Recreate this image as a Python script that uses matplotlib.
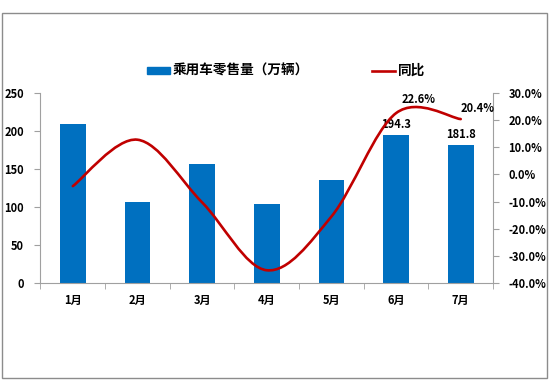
import matplotlib
matplotlib.use("Agg")
import matplotlib.pyplot as plt
from matplotlib.path import Path
from matplotlib.patches import PathPatch, Rectangle
from matplotlib.lines import Line2D
from matplotlib.ticker import FuncFormatter, MultipleLocator

plt.rcParams['font.family'] = ['Noto Sans CJK SC', 'DejaVu Sans']

# data
months = ['1月', '2月', '3月', '4月', '5月', '6月', '7月']
sales = [209.0, 107.0, 157.0, 104.0, 135.5, 194.3, 181.8]   # 万辆
yoy = [-4.3, 12.8, -10.3, -35.3, -15.5, 22.6, 20.4]          # %
sales_labels = {5: '194.3', 6: '181.8'}
yoy_labels = {5: '22.6%', 6: '20.4%'}

BLUE = '#0070C0'
RED = '#C00000'
GREY = '#A0A0A0'


def smooth_path(xs, ys):
    """Excel style smoothed line: cubic Bezier segments through every point."""
    n = len(xs)
    verts = [(xs[0], ys[0])]
    codes = [Path.MOVETO]
    for i in range(n - 1):
        p0 = max(i - 1, 0)
        p3 = min(i + 2, n - 1)
        c1 = (xs[i] + (xs[i + 1] - xs[p0]) / 6, ys[i] + (ys[i + 1] - ys[p0]) / 6)
        c2 = (xs[i + 1] - (xs[p3] - xs[i]) / 6, ys[i + 1] - (ys[p3] - ys[i]) / 6)
        verts += [c1, c2, (xs[i + 1], ys[i + 1])]
        codes += [Path.CURVE4] * 3
    return Path(verts, codes)


fig = plt.figure(figsize=(5.54, 3.86), dpi=100)
fig.patches.append(Rectangle((0.0045, 0.0207), 0.983, 0.9456, transform=fig.transFigure,
                             fill=False, edgecolor='#8C8C8C', linewidth=1.0))

ax = fig.add_axes([0.0731, 0.2668, 0.8169, 0.4922])
x = list(range(len(months)))
ax.bar(x, sales, width=0.4, color=BLUE, zorder=2)
ax.set_xlim(-0.5, len(months) - 0.5)
ax.set_ylim(0, 250)
ax.yaxis.set_major_locator(MultipleLocator(50))

ax.set_xticks(x)
ax.set_xticklabels(months)
ax.set_xticks([i - 0.5 for i in range(len(months) + 1)], minor=True)
ax.tick_params(axis='x', which='major', length=0, pad=8)
ax.tick_params(axis='x', which='minor', length=4, color=GREY)
ax.tick_params(axis='y', length=4, color=GREY, pad=8)
for lab in ax.get_xticklabels() + ax.get_yticklabels():
    lab.set_fontsize(8)
    lab.set_fontweight('bold')

for s in ['top', 'right']:
    ax.spines[s].set_visible(False)
for s in ['left', 'bottom']:
    ax.spines[s].set_color(GREY)

for i, txt in sales_labels.items():
    ax.annotate(txt, (x[i], sales[i]), xytext=(0, 7.5), textcoords='offset points',
                ha='center', va='center', fontsize=8, fontweight='bold')

ax2 = ax.twinx()
ax2.set_ylim(-40, 30)
ax2.yaxis.set_major_locator(MultipleLocator(10))
ax2.yaxis.set_major_formatter(FuncFormatter(lambda v, p: f'{v:.1f}%'))
ax2.tick_params(axis='y', length=4, color=GREY, pad=7)
for lab in ax2.get_yticklabels():
    lab.set_fontsize(8)
    lab.set_fontweight('bold')
for s in ['top', 'left', 'bottom']:
    ax2.spines[s].set_visible(False)
ax2.spines['right'].set_color(GREY)

ax2.add_patch(PathPatch(smooth_path(x, yoy), fill=False, edgecolor=RED,
                        linewidth=1.9, capstyle='round', zorder=3))

label_offsets = {5: (16, 9.5), 6: (12, 7.5)}
for i, txt in yoy_labels.items():
    ax2.annotate(txt, (x[i], yoy[i]), xytext=label_offsets[i], textcoords='offset points',
                 ha='center', va='center', fontsize=8, fontweight='bold')

handles = [Rectangle((0, 0), 1, 1, color=BLUE), Line2D([], [], color=RED, linewidth=1.9)]
leg = fig.legend(handles, ['乘用车零售量（万辆）', '同比'], loc='center',
                 bbox_to_anchor=(286 / 554, 1 - 71 / 386), ncol=2, frameon=False,
                 fontsize=9.8, handlelength=1.7, handleheight=0.4, handletextpad=0.2,
                 columnspacing=4.6)
for t in leg.get_texts():
    t.set_fontweight('bold')

fig.savefig('out.png', dpi=100)
